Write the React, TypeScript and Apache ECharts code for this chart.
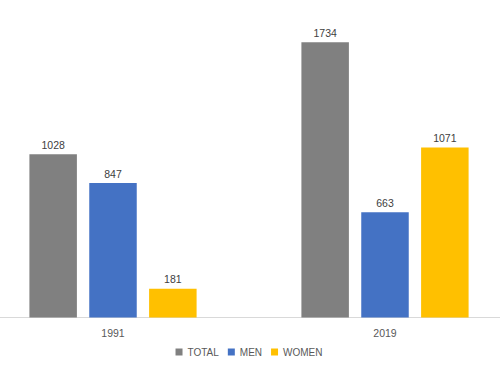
import React, { useEffect, useRef } from "react";
import * as echarts from "echarts";

const categories = ["1991", "2019"];
const totalValues = [1028, 1734];
const menValues = [847, 663];
const womenValues = [181, 1071];
const seriesNames = ["TOTAL", "MEN", "WOMEN"];
const colors = ["#808080", "#4472C4", "#FFC000"];

export default function App() {
  const ref = useRef<HTMLDivElement>(null);
  useEffect(() => {
    if (!ref.current) return;
    const chart = echarts.init(ref.current, undefined, { renderer: "svg" });
    const data = [totalValues, menValues, womenValues];
    chart.setOption({
      animation: false,
      grid: { left: 0, right: 0, top: 0, height: 317.5 },
      legend: {
        bottom: 5,
        left: "center",
        itemWidth: 7,
        itemHeight: 7,
        itemGap: 9,
        icon: "rect",
        textStyle: { color: "#595959", fontSize: 10, fontFamily: "Liberation Sans" },
        data: seriesNames,
      },
      xAxis: {
        type: "category",
        data: categories,
        axisLine: { lineStyle: { color: "#D9D9D9" } },
        axisTick: { show: false },
        axisLabel: { color: "#595959", fontSize: 10.5, margin: 10, fontFamily: "Liberation Sans" },
      },
      yAxis: {
        type: "value",
        min: 0,
        max: 2000,
        show: false,
        splitLine: { show: false },
      },
      series: seriesNames.map((name, i) => ({
        name,
        type: "bar",
        data: data[i],
        barWidth: 47.5,
        barGap: "26%",
        itemStyle: { color: colors[i] },
        label: {
          show: true,
          position: "top",
          distance: 4,
          color: "#404040",
          fontSize: 10.5,
          fontFamily: "Liberation Sans",
        },
      })),
    });
    return () => chart.dispose();
  }, []);
  return (
    <div style={{ width: 500, height: 367, position: "absolute", left: 0, top: 0, overflow: "hidden" }}>
      <div ref={ref} style={{ width: 544, height: 367, position: "absolute", left: -23, top: 0 }} />
    </div>
  );
}
